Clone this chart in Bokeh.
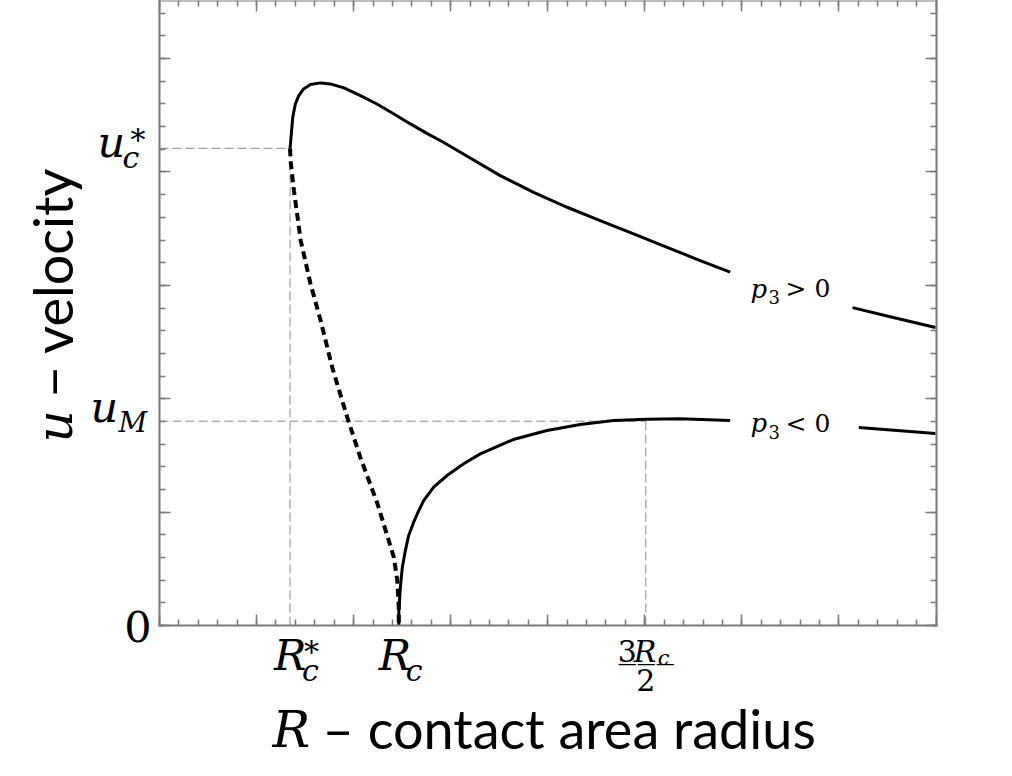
import math
from bokeh.plotting import figure
from bokeh.models import Range1d, LinearAxis, FixedTicker, Label
from bokeh.embed import file_html
from bokeh.resources import INLINE

nan = float("nan")

# ---------------- data ----------------
x_major_ticks = [0.5, 0.7, 0.9, 1.1, 1.3, 1.5, 1.7, 1.9, 2.1]
x_minor_ticks = [round(0.5 + 0.04 * i, 2) for i in range(41)]
y_major_ticks = [0, 1, 2, 3, 4, 5]
y_minor_ticks = [round(0.2 * i, 1) for i in range(28)]
x_frame = (0.5, 2.1)
y_frame = (0.0, 5.51)

R_c_star = 0.769
R_c = 0.993
R_3half = 1.502
u_c_star = 4.209
u_M = 1.802

# upper stable branch (p3 > 0), broken where the label sits
upper_x = [0.769, 0.771, 0.7745, 0.780, 0.787, 0.797, 0.811, 0.832, 0.852, 0.880, 0.914, 0.948,
           0.983, 1.017, 1.051, 1.085, 1.120, 1.202, 1.271, 1.340, 1.408, 1.477, 1.546, 1.614,
           1.676, nan, 1.928, 2.012, 2.099]
upper_y = [4.209, 4.306, 4.482, 4.601, 4.674, 4.733, 4.771, 4.786, 4.777, 4.742, 4.674, 4.600,
           4.512, 4.424, 4.341, 4.262, 4.174, 3.968, 3.821, 3.689, 3.571, 3.454, 3.336, 3.219,
           3.116, nan, 2.804, 2.716, 2.628]

# unstable branch (dashed)
dashed_x = [0.769, 0.770, 0.777, 0.791, 0.811, 0.832, 0.856, 0.887, 0.914, 0.949, 0.983, 0.990, 0.993, 0.993]
dashed_y = [4.209, 4.101, 3.836, 3.395, 3.016, 2.690, 2.275, 1.834, 1.481, 1.076, 0.600, 0.397, 0.159, 0.0]

# lower branch (p3 < 0)
lower_x = [0.993, 0.9932, 0.9963, 1.0004, 1.0066, 1.0134, 1.0237, 1.0327, 1.0443, 1.0649, 1.0925,
           1.1267, 1.1610, 1.1954, 1.2290, 1.2984, 1.3670, 1.4356, 1.5043, 1.5729, 1.6759, nan,
           1.941, 2.099]
lower_y = [0.0, 0.132, 0.335, 0.514, 0.661, 0.794, 0.911, 0.999, 1.102, 1.220, 1.323,
           1.426, 1.514, 1.578, 1.640, 1.720, 1.772, 1.808, 1.819, 1.823, 1.808, nan,
           1.746, 1.693]

branch_label_x = 1.718
branch_label_y = [2.892, 1.702]
branch_signs = ["> 0", "< 0"]

x_label_main = "R"
x_label_rest = "\u2013 contact area radius"
y_label_main = "u"
y_label_rest = "\u2212 velocity"

# ---------------- figure ----------------
W, H = 1000, 768
LEFT, RIGHT, TOP, BOTTOM = 159, 935.5, 0.3, 625    # frame position in pixels
sx = (x_frame[1] - x_frame[0]) / (RIGHT - LEFT)
sy = (y_frame[1] - y_frame[0]) / (BOTTOM - TOP)
x_rng = (x_frame[0] - LEFT * sx, x_frame[1] + (W - RIGHT) * sx)
y_rng = (y_frame[0] - (H - BOTTOM) * sy, y_frame[1] + TOP * sy)

GRAY = "#7a7a7a"
p = figure(width=W, height=H, output_backend="svg", toolbar_location=None,
           x_range=Range1d(*x_rng), y_range=Range1d(*y_rng),
           x_axis_location=None, y_axis_location=None,
           min_border=0, min_border_left=0, min_border_right=0,
           min_border_top=0, min_border_bottom=0)
p.grid.visible = False
p.outline_line_color = None
p.background_fill_color = "white"
p.border_fill_color = "white"


def mk_axis(ticks, minors, bounds, loc):
    ax = LinearAxis(ticker=FixedTicker(ticks=ticks, minor_ticks=minors),
                    fixed_location=loc, bounds=bounds)
    ax.axis_line_color = GRAY
    ax.axis_line_width = 2
    ax.axis_line_cap = "square"
    ax.major_tick_in = 11
    ax.major_tick_out = 0
    ax.minor_tick_in = 6
    ax.minor_tick_out = 0
    ax.major_tick_line_color = GRAY
    ax.minor_tick_line_color = GRAY
    ax.major_tick_line_width = 1.5
    ax.minor_tick_line_width = 1.5
    ax.major_label_text_font_size = "0px"
    ax.major_label_standoff = 0
    ax.major_label_overrides = {t: "" for t in ticks}
    return ax


p.add_layout(mk_axis(x_major_ticks, x_minor_ticks, x_frame, y_frame[0]), "below")
p.add_layout(mk_axis(x_major_ticks, x_minor_ticks, x_frame, y_frame[1]), "above")
p.add_layout(mk_axis(y_major_ticks, y_minor_ticks, y_frame, x_frame[0]), "left")
p.add_layout(mk_axis(y_major_ticks, y_minor_ticks, y_frame, x_frame[1]), "right")

# reference dashed lines
REF = "#8a8a8a"
p.line([x_frame[0], R_c_star], [u_c_star, u_c_star], line_color=REF, line_width=1, line_dash="9 4")
p.line([R_c_star, R_c_star], [y_frame[0], u_c_star], line_color=REF, line_width=1, line_dash="9 4")
p.line([x_frame[0], R_3half], [u_M, u_M], line_color=REF, line_width=1, line_dash="9 4")
p.line([R_3half, R_3half], [y_frame[0], u_M], line_color=REF, line_width=1, line_dash="9 4")

# curves
p.line(upper_x, upper_y, line_color="black", line_width=3, line_join="round")
p.line(lower_x, lower_y, line_color="black", line_width=3, line_join="round")
p.line(dashed_x, dashed_y, line_color="black", line_width=4, line_dash="8 5")

BASE_FIX = 0.35   # Bokeh draws the alphabetic baseline this fraction of the font size lower


def put(text, x, y, dx, dy, size, font="DejaVu Serif", style="italic", align="left", angle=0.0):
    corr = BASE_FIX * size
    dx = dx - math.sin(angle) * corr
    dy = dy + math.cos(angle) * corr
    p.add_layout(Label(x=x, y=y, x_offset=dx, y_offset=dy, text=text, text_font=font,
                       text_font_style=style, text_font_size=f"{size}px", text_align=align,
                       text_baseline="alphabetic", text_color="black", angle=angle))


X0, Y0 = x_frame[0], y_frame[0]
# y tick labels
put("u", X0, u_c_star, -62, -9, 43)
put("c", X0, u_c_star, -37, -20, 30)
put("*", X0, u_c_star, -29, -2, 30, style="normal")
put("u", X0, u_M, -69, -1, 43)
put("M", X0, u_M, -41, -11, 28)
put("0", X0, Y0, -8, -16, 43, style="normal", align="right")

# x tick labels
put("R", R_c_star, Y0, -16, -45, 43)
put("c", R_c_star, Y0, 12, -55, 30)
put("*", R_c_star, Y0, 14, -36, 30, style="normal")
put("R", R_c, Y0, -20, -45, 43)
put("c", R_c, Y0, 7, -55, 30)
put("3", R_3half, Y0, -28, -36, 30, style="normal")
put("R", R_3half, Y0, -12, -36, 30)
put("c", R_3half, Y0, 12, -40, 21)
put("\u2014\u2014\u2014", R_3half, Y0, -28, -44, 19, font="DejaVu Sans", style="normal")
put("2", R_3half, Y0, 0, -65, 30, style="normal", align="center")

# axis titles
put(x_label_main, X0, Y0, 113, -122, 50)
put(x_label_rest, X0, Y0, 163, -122, 54, font="Lato", style="normal")
put(y_label_main, X0, Y0, -87, 183, 50, angle=math.pi / 2)
put(y_label_rest, X0, Y0, -88, 228, 54, font="Lato", style="normal", angle=math.pi / 2)

# branch labels
for yy, sign in zip(branch_label_y, branch_signs):
    put("p", branch_label_x, yy, 0, 0, 26)
    put("3", branch_label_x, yy, 18, -6, 18, style="normal")
    put(sign, branch_label_x, yy, 35, 0, 25, style="normal")

open("out.html", "w").write(file_html(p, INLINE))
